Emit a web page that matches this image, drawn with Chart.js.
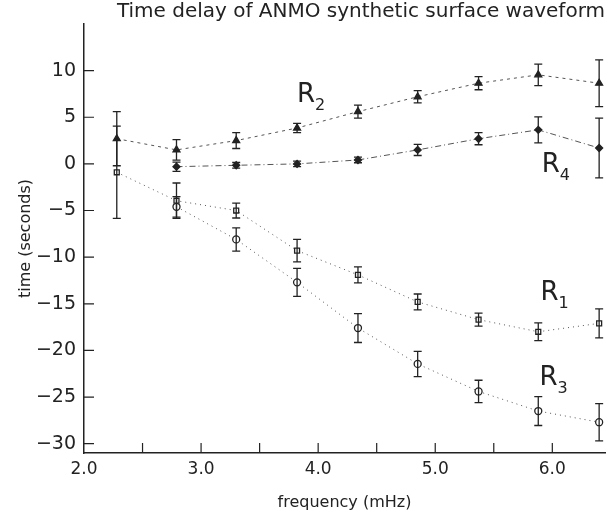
<!DOCTYPE html>
<html>
<head>
<meta charset="utf-8">
<title>Time delay of ANMO synthetic surface waveform</title>
<script src="https://cdn.jsdelivr.net/npm/chart.js@4.4.0/dist/chart.umd.min.js"></script>
<style>
  html, body { margin: 0; padding: 0; background: #fff; }
  #wrap { width: 614px; height: 518px; }
</style>
</head>
<body>
<div id="wrap"><canvas id="chart" width="614" height="518"></canvas></div>
<script>
// ── data ─────────────────────────────────────────────────────────────
const freq   = [2.28, 2.79, 3.30, 3.82, 4.34, 4.85, 5.37, 5.88, 6.40];   // mHz

const r1     = [-0.9, -3.95, -5.0, -9.3, -11.9, -14.8, -16.7, -18.0, -17.1];
const r1Err  = [4.95, 1.9, 0.8, 1.2, 0.85, 0.85, 0.7, 0.95, 1.55];

const r2     = [2.7, 1.5, 2.5, 3.85, 5.6, 7.2, 8.65, 9.55, 8.65];
const r2Err  = [2.9, 1.1, 0.85, 0.5, 0.7, 0.65, 0.7, 1.15, 2.5];

const r3     = [null, -4.6, -8.1, -12.7, -17.6, -21.45, -24.4, -26.5, -27.7];
const r3Err  = [null, 1.1, 1.25, 1.5, 1.55, 1.35, 1.2, 1.55, 2.0];

const r4     = [null, -0.3, -0.15, 0.0, 0.42, 1.5, 2.7, 3.65, 1.7];
const r4Err  = [null, 0.5, 0.3, 0.3, 0.3, 0.6, 0.65, 1.4, 3.2];

const xTicks = [2.0, 2.5, 3.0, 3.5, 4.0, 4.5, 5.0, 5.5, 6.0];
const yTicks = [10, 5, 0, -5, -10, -15, -20, -25, -30];

// curve labels: text, subscript, anchor (data coords)
const curveLabels = [
  { t: 'R', sub: '2', x: 3.82, y: 6.6 },
  { t: 'R', sub: '4', x: 5.91, y: -0.9 },
  { t: 'R', sub: '1', x: 5.90, y: -14.6 },
  { t: 'R', sub: '3', x: 5.89, y: -23.7 },
];

const INK   = '#222';
const LINE  = '#555';
const FONT  = "'DejaVu Sans', sans-serif";

const pts = (ys) => ys.map((y, i) => y === null ? null : { x: freq[i], y })
                      .filter(p => p !== null);
const errs = (es) => es.filter(e => e !== null);

function series(label, ys, es, style, dash) {
  return {
    label,
    data: pts(ys),
    err: errs(es),
    borderColor: LINE,
    borderWidth: 1,
    borderDash: dash,
    tension: 0,
    fill: false,
    pointStyle: style.shape,
    pointRadius: style.r,
    pointBorderColor: INK,
    pointBorderWidth: 1.3,
    pointBackgroundColor: style.filled ? INK : '#fff',
  };
}

/* ═══════════════════════════════════════════════════════════════════
   PLUGINS: error bars, inward ticks, curve labels
   ═══════════════════════════════════════════════════════════════════ */
const errorBars = {
  id: 'errorBars',
  afterDatasetsDraw(chart) {
    const { ctx, scales: { x, y } } = chart;
    ctx.save();
    ctx.strokeStyle = INK;
    ctx.lineWidth = 1.3;
    chart.data.datasets.forEach(ds => {
      ds.data.forEach((p, i) => {
        const e = ds.err[i];
        const px = x.getPixelForValue(p.x);
        const top = y.getPixelForValue(p.y + e);
        const bot = y.getPixelForValue(p.y - e);
        ctx.beginPath();
        ctx.moveTo(px, top); ctx.lineTo(px, bot);
        ctx.moveTo(px - 4, top); ctx.lineTo(px + 4, top);
        ctx.moveTo(px - 4, bot); ctx.lineTo(px + 4, bot);
        ctx.stroke();
      });
    });
    ctx.restore();
  }
};

const inwardTicks = {
  id: 'inwardTicks',
  afterDraw(chart) {
    const { ctx, chartArea: a, scales: { x, y } } = chart;
    ctx.save();
    ctx.strokeStyle = INK;
    ctx.lineWidth = 1.2;
    ctx.beginPath();
    yTicks.forEach(v => {
      const py = y.getPixelForValue(v);
      ctx.moveTo(a.left, py); ctx.lineTo(a.left + 10, py);
    });
    xTicks.slice(1).forEach(v => {
      const px = x.getPixelForValue(v);
      ctx.moveTo(px, a.bottom); ctx.lineTo(px, a.bottom - 10);
    });
    ctx.stroke();
    ctx.restore();
  }
};

const curveText = {
  id: 'curveText',
  afterDraw(chart) {
    const { ctx, scales: { x, y } } = chart;
    ctx.save();
    ctx.fillStyle = INK;
    ctx.textBaseline = 'alphabetic';
    curveLabels.forEach(l => {
      const px = x.getPixelForValue(l.x);
      const py = y.getPixelForValue(l.y);
      ctx.font = `26px ${FONT}`;
      ctx.fillText(l.t, px, py);
      ctx.font = `16px ${FONT}`;
      ctx.fillText(l.sub, px + 18, py + 8);
    });
    ctx.restore();
  }
};

new Chart(document.getElementById('chart'), {
  type: 'line',
  data: {
    datasets: [
      series('R2', r2, r2Err, { shape: 'triangle', r: 4,   filled: true  }, [3, 4]),
      series('R4', r4, r4Err, { shape: 'rectRot',  r: 3.5, filled: true  }, [6, 3, 1, 3]),
      series('R1', r1, r1Err, { shape: 'rect',     r: 3.5, filled: false }, [1, 4]),
      series('R3', r3, r3Err, { shape: 'circle',   r: 3.5, filled: false }, [1, 4]),
    ],
  },
  options: {
    responsive: false,
    animation: false,
    layout: { padding: { left: 0, right: 9, top: 0, bottom: 0 } },
    plugins: {
      legend: { display: false },
      tooltip: { enabled: false },
      title: {
        display: true,
        align: 'end',
        text: 'Time delay of ANMO synthetic surface waveform',
        color: INK,
        font: { family: FONT, size: 20, weight: 'normal' },
        padding: { top: 0, bottom: 0 },
      },
    },
    scales: {
      x: {
        type: 'linear',
        min: 2.0, max: 6.45,
        afterBuildTicks: s => { s.ticks = xTicks.map(v => ({ value: v })); },
        afterFit: s => { s.height = 65; },
        grid: { display: false, drawTicks: false },
        border: { display: true, color: INK, width: 1.5 },
        ticks: {
          color: INK,
          padding: 6,
          maxRotation: 0,
          autoSkip: false,
          font: { family: FONT, size: 17 },
          callback: v => Number.isInteger(v) ? v.toFixed(1) : '',
        },
        title: {
          display: true,
          text: 'frequency (mHz)',
          color: INK,
          font: { family: FONT, size: 16 },
          padding: { top: 0, bottom: 6 },
        },
      },
      y: {
        min: -31, max: 15,
        afterBuildTicks: s => { s.ticks = yTicks.map(v => ({ value: v })); },
        afterFit: s => { s.width = 84; },
        grid: { display: false, drawTicks: false },
        border: { display: true, color: INK, width: 1.5 },
        ticks: {
          color: INK,
          padding: 8,
          font: { family: FONT, size: 19 },
          callback: v => v < 0 ? '\u2212' + Math.abs(v) : String(v),
        },
        title: {
          display: true,
          text: 'time (seconds)',
          color: INK,
          font: { family: FONT, size: 16 },
          padding: { top: 16, bottom: 0 },
        },
      },
    },
  },
  plugins: [errorBars, inwardTicks, curveText],
});
</script>
</body>
</html>
